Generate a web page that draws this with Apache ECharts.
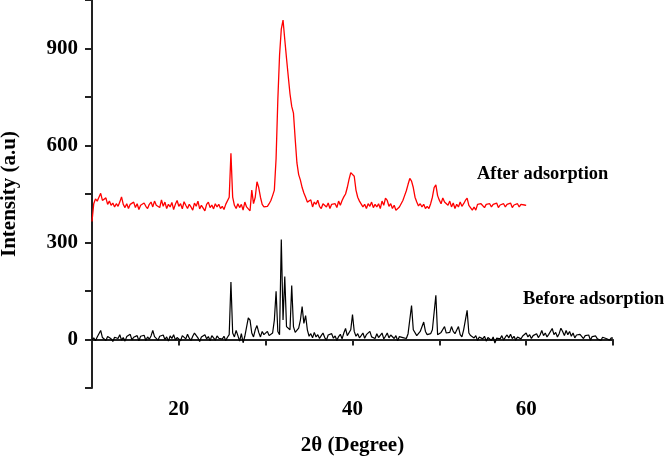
<!DOCTYPE html>
<html>
<head>
<meta charset="utf-8">
<script src="https://cdn.jsdelivr.net/npm/echarts@6/dist/echarts.min.js"></script>
<style>html,body{margin:0;padding:0;background:#fff;}#c{width:666px;height:457px;}</style>
</head>
<body>
<div id="c"></div>
<script>
// 2θ scan grid
const scanStart = 10;
const scanStep = 0.2;
const xTicks = [20, 40, 60];
const yTicks = [0, 300, 600, 900];
const seriesNames = ['Before adsorption', 'After adsorption'];

// Before adsorption intensities, 10.0° .. 70.0°
const beforeIntensity = [
  -2, 5, -4, 8, 12,
  28, 6, 10, -3, 9,
  14, 2, -6, 7, 11,
  3, 15, -2, 6, -5,
  9, 4, 16, -1, 7,
  2, 12, -4, 10, 5,
  13, -3, 8, 1, 11,
  28, 9, 3, -2, 10,
  6, 14, 0, 8, -5,
  11, 3, 15, -1, 6,
  9, -4, 12, 7, 2,
  16, 4, -3, 10, 20,
  18, 5, -6, 8, 3,
  15, 2, 9, -4, 12,
  6, -2, 11, 4, 8,
  1, 10, -3, 7, 15,
  178, 20, 8, 28, 12,
  -5, 18, -10, 10, 5,
  67, 60, 20, 8, 30,
  43, 22, 8, 25, 15,
  10, 25, 12, 15, 20,
  60, 149, 25, 15, 309,
  60, 195, 40, 38, 30,
  167, 40, 22, 25, 35,
  60, 102, 50, 74, 30,
  10, 18, 5, 22, 8,
  15, 3, 12, 20, 6,
  -2, 14, 8, 18, 4,
  11, -3, 9, 16, 2,
  20, 34, 12, 8, 30,
  77, 25, 10, 18, 5,
  12, 20, 4, 15, 9,
  25, 8, 14, 3, 18,
  6, 12, 20, 2, 10,
  20, 5, 14, 8, 3,
  12, -4, 9, 15, 6,
  10, 3, 18, 15, 105,
  30, 35, 12, 18, 25,
  30, 54, 25, 15, 20,
  18, 30, 25, 137, 15,
  12, 22, 18, 40, 20,
  15, 22, 40, 25, 18,
  20, 40, 15, 8, 30,
  35, 90, 20, 12, 15,
  5, 12, -3, 8, 14,
  2, 10, -5, 6, 12,
  -3, 8, -11, 4, 10,
  2, 12, -2, 7, 14,
  5, 16, 3, 10, -2,
  8, 14, 2, 11, 6,
  20, 8, 15, 3, 12,
  9, 18, 6, 14, 28,
  12, 20, 8, 16, 10,
  34, 15, 22, 8, 18,
  35, 25, 12, 28, 15,
  25, 10, 20, 5, 14,
  8, 16, 10, 3, 12,
  6, 14, -2, 9, 4,
  11, 2, 8, -3, 7,
  10, 3, 6, -2, 5,
  4
];

// After adsorption intensities, 10.0° .. 60.0°
const afterIntensity = [
  365, 420, 435, 428, 440,
  452, 430, 425, 438, 418,
  428, 415, 422, 410, 420,
  412, 425, 441, 418, 408,
  420, 405, 418, 412, 425,
  408, 420, 402, 415, 410,
  422, 412, 405, 418, 425,
  410, 428, 415, 420, 408,
  432, 412, 425, 405, 418,
  410, 424, 402, 418, 430,
  412, 420, 404, 426, 415,
  405, 418, 410, 400, 422,
  412, 428, 404, 415, 420,
  398, 418, 425, 408, 416,
  404, 420, 410, 418, 405,
  412, 402, 418, 415, 440,
  576, 440, 415, 405, 420,
  408, 418, 400, 425, 410,
  412, 398, 462, 420, 440,
  488, 470, 440, 418, 410,
  406, 412, 420, 430, 445,
  462, 560, 741, 880, 960,
  988, 928, 870, 814, 760,
  721, 700, 620, 546, 510,
  493, 470, 453, 440, 425,
  420, 432, 410, 425, 418,
  431, 412, 405, 420, 415,
  410, 422, 405, 418, 412,
  420, 408, 428, 415, 430,
  441, 450, 470, 495, 516,
  516, 505, 462, 440, 428,
  422, 410, 418, 405, 420,
  412, 425, 408, 418, 410,
  420, 405, 428, 415, 437,
  430, 412, 420, 405, 415,
  400, 395, 410, 420, 430,
  445, 460, 480, 498, 490,
  470, 440, 425, 413, 420,
  410, 418, 405, 412, 405,
  420, 440, 470, 478, 445,
  431, 420, 438, 425, 431,
  415, 428, 410, 422, 405,
  418, 410, 425, 412, 420,
  430, 437, 415, 420, 400,
  410, 400, 418, 412, 420,
  415, 408, 418, 412, 420,
  410, 418, 414, 422, 408,
  416, 412, 420, 410, 418,
  412, 422, 408, 416, 414,
  420, 410, 418, 412, 416,
  415
];

function toPairs(arr) {
  return arr.map((v, i) => [+(scanStart + i * scanStep).toFixed(2), v]);
}

const FONT = "'Liberation Serif', 'Times New Roman', serif";
const chart = echarts.init(document.getElementById('c'), null, { renderer: 'canvas' });
chart.setOption({
  animation: false,
  backgroundColor: '#fff',
  grid: { left: 92, right: 53, top: 0, bottom: 69, containLabel: false, outerBoundsMode: 'none' },
  xAxis: {
    type: 'value', min: 10, max: 70, interval: 10,
    name: '2θ (Degree)', nameLocation: 'middle', nameGap: 47,
    nameTextStyle: { fontFamily: FONT, fontWeight: 'bold', fontSize: 21, color: '#000' },
    axisLine: { lineStyle: { color: '#222', width: 2 } },
    axisTick: { show: true, length: 6, lineStyle: { color: '#222', width: 2 } },
    axisLabel: {
      margin: 11, fontFamily: FONT, fontWeight: 'bold', fontSize: 21, color: '#000',
      formatter: v => xTicks.includes(v) ? String(v) : ''
    },
    splitLine: { show: false }
  },
  yAxis: {
    type: 'value', min: -150, max: 1050, interval: 150,
    name: 'Intensity (a.u)', nameLocation: 'middle', nameGap: 72,
    nameTextStyle: { fontFamily: FONT, fontWeight: 'bold', fontSize: 21, color: '#000' },
    axisLine: { show: true, lineStyle: { color: '#222', width: 2 } },
    axisTick: { show: true, length: 7, lineStyle: { color: '#222', width: 2 } },
    axisLabel: {
      margin: 14, fontFamily: FONT, fontWeight: 'bold', fontSize: 21, color: '#000',
      formatter: v => yTicks.includes(v) ? String(v) : ''
    },
    splitLine: { show: false }
  },
  series: [
    {
      name: seriesNames[0], type: 'line', data: toPairs(beforeIntensity),
      showSymbol: false, symbol: 'none',
      lineStyle: { color: '#000', width: 1.2 }, z: 2
    },
    {
      name: seriesNames[1], type: 'line', data: toPairs(afterIntensity),
      showSymbol: false, symbol: 'none',
      lineStyle: { color: '#ff0000', width: 1.3 }, z: 3
    }
  ],
  graphic: [
    { type: 'text', left: 477, top: 165, style: { text: seriesNames[1], font: "bold 18.4px " + FONT, fill: '#000' } },
    { type: 'text', left: 523, top: 290, style: { text: seriesNames[0], font: "bold 18.4px " + FONT, fill: '#000' } }
  ]
});
</script>
</body>
</html>
